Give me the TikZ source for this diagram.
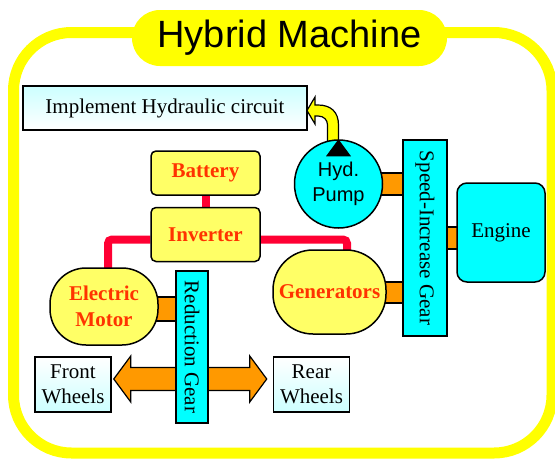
\documentclass[tikz,border=0pt]{standalone}
\usepackage{fontspec}
\setmainfont{Liberation Serif}
\newfontfamily\arialfont{Liberation Sans}
\usetikzlibrary{positioning, calc, backgrounds}

\definecolor{boxyellow}{HTML}{FFFF66}
\definecolor{brightyellow}{HTML}{FFFF00}
\definecolor{partcyan}{HTML}{00FFFF}
\definecolor{partred}{HTML}{FF3300}
\definecolor{wirered}{HTML}{FF0033}
\definecolor{shaftorange}{HTML}{FF9900}
\definecolor{paleblue}{HTML}{CCFFFF}

\begin{document}
\begin{tikzpicture}[
  x=1pt, y=-1pt,
  font=\fontsize{21}{25}\selectfont,
  part/.style={draw=black, line width=1.5pt, fill=boxyellow, text=partred,
    font=\fontsize{21}{26}\selectfont\bfseries, align=center, inner sep=0pt},
  gear/.style={draw=black, line width=1.5pt, fill=partcyan, inner sep=0pt, rotate=-90},
  wheel/.style={draw=black, line width=1.5pt, top color=white, bottom color=paleblue,
    align=center, inner sep=0pt, minimum width=76pt, minimum height=55pt},
  shaft/.style={draw=black, line width=1.2pt, fill=shaftorange},
  wire/.style={draw=wirered, line width=8pt, rounded corners=4pt},
  hydarrow/.style={draw=black, line width=1.2pt, fill=brightyellow},
  frame/.style={draw=brightyellow, line width=11pt, rounded corners=58pt}
]
\useasboundingbox (0,0) rectangle (555,459);

% ================= TITLE =================
\node[fill=brightyellow, rounded corners=28pt, minimum width=315pt, minimum height=56pt,
      inner sep=0pt, font=\arialfont\fontsize{38}{38}\selectfont] (title) at (289.5,38)
  {Hybrid Machine};

% ================= HYDRAULICS =================
\node[draw=black, line width=1.5pt, top color=paleblue, bottom color=white,
      minimum width=284pt, minimum height=44pt, inner sep=0pt] (impl) at (165,108)
  {Implement Hydraulic circuit};
\node[circle, draw=black, line width=1.5pt, fill=partcyan, minimum size=88pt, inner sep=0pt,
      align=center, font=\arialfont\fontsize{20}{25}\selectfont] (pump) at (338.5,184)
  {Hyd.\\Pump};
\fill (pump.north) -- ++(-12.5,17) -- ++(25,0) -- cycle;

% ================= ELECTRIC PARTS =================
\node[part, rounded corners=5pt, minimum width=109pt, minimum height=44pt] (batt) at (205.5,173) {Battery};
\node[part, rounded corners=5pt, minimum width=109pt, minimum height=54pt, below=11pt of batt] (inv) {Inverter};
\node[part, rounded corners=36pt, minimum width=108pt, minimum height=77pt] (motor) at (104,306.5) {Electric\\Motor};
\node[part, rounded corners=40pt, minimum width=113pt, minimum height=84pt] (gen) at (329.5,292) {Generators};

% ================= GEARS, ENGINE, WHEELS =================
\node[gear, minimum width=152pt, minimum height=32pt] (redgear) at (192,347) {Reduction Gear};
\node[gear, minimum width=196pt, minimum height=44pt] (spdgear) at (425,238) {Speed-Increase Gear};
\node[draw=black, line width=1.5pt, fill=partcyan, rounded corners=10pt,
      minimum width=88pt, minimum height=99pt] (engine) at (501,232.5) {Engine};
\node[wheel] (front) at (73,384.5) {Front\\Wheels};
\node[wheel] (rear) at (311.5,384.5) {Rear\\Wheels};

% ================= CONNECTIONS =================
\begin{scope}[on background layer]
  \draw[frame] (13.5,32.5) rectangle (552,453);
  % power wires
  \draw[wire] (batt) -- (inv);
  \draw[wire] ($(inv.west)+(0,5)$) -| ($(motor.north)+(4,10)$);
  \draw[wire] ($(inv.east)+(0,5)$) -| ($(gen.north)+(17.5,10)$);
  % shafts
  \draw[shaft] ($(motor.east)+(-6,-9.5)$) rectangle ($(motor.east -| redgear.south)+(0,14.5)$);
  \draw[shaft] ($(pump.east)+(-6,-11)$) rectangle ($(pump.east -| spdgear.south)+(0,11)$);
  \draw[shaft] ($(gen.east)+(-6,-10)$) rectangle ($(gen.east -| spdgear.south)+(0,11)$);
  \draw[shaft] ($(engine.west)+(6,-5.5)$) rectangle ($(engine.west -| spdgear.north)+(0,16.5)$);
  % drive to the wheels
  \coordinate (fa) at ($(front.east)+(2,-5.5)$);
  \coordinate (ra) at ($(rear.west)+(-6,-5.5)$);
  \draw[shaft] (fa) -- ++(17,-23) -- ++(0,11.5) -- ($(ra)+(-17,-11.5)$) -- ++(0,-11.5)
    -- (ra) -- ++(-17,23) -- ++(0,-11.5) -- ($(fa)+(17,11.5)$) -- ++(0,11.5) -- cycle;
  % oil to the implement
  \draw[hydarrow] (338.5,146) -- (338.5,125) .. controls (338.5,112) and (331,105) .. (318,105)
    -- (315,105) -- (315,97) -- (307,110.5) -- (315,124) -- (315,116) -- (318,116)
    .. controls (324,116) and (327.5,120) .. (327.5,125) -- (327.5,146) -- cycle;
\end{scope}
\end{tikzpicture}
\end{document}
